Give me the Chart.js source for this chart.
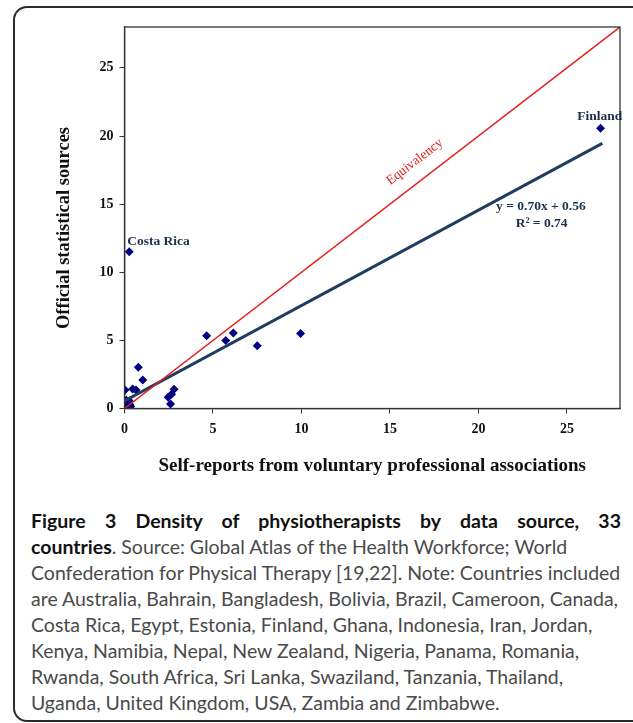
<!DOCTYPE html>
<html>
<head>
<meta charset="utf-8">
<script src="https://cdn.jsdelivr.net/npm/chart.js@4.4.1/dist/chart.umd.min.js"></script>
<style>
  html, body { margin: 0; padding: 0; background: #fff; }
  body { width: 633px; height: 723px; position: relative; overflow: hidden; }
  #frame { position: absolute; left: 13px; top: 6px; width: 640px; height: 712px;
           border: 2px solid #2b2b2b; border-radius: 14px; }
  #chart { position: absolute; left: 0; top: 0; }
  #caption { position: absolute; left: 31px; top: 508px; width: 590px;
             font-family: Lato, sans-serif; font-size: 19.5px; line-height: 26px; color: #4a4a4a; }
  #caption div { white-space: nowrap; }
  #caption .j { text-align: justify; text-align-last: justify; white-space: normal; }
  .b { font-weight: bold; color: #111; }
</style>
</head>
<body>
<div id="frame"></div>
<canvas id="chart" width="633" height="480"></canvas>
<div id="caption">
  <div class="j b">Figure 3 Density of physiotherapists by data source, 33</div>
  <div><span class="b">countries</span>. Source: Global Atlas of the Health Workforce; World</div>
  <div>Confederation for Physical Therapy [19,22]. Note: Countries included</div>
  <div>are Australia, Bahrain, Bangladesh, Bolivia, Brazil, Cameroon, Canada,</div>
  <div>Costa Rica, Egypt, Estonia, Finland, Ghana, Indonesia, Iran, Jordan,</div>
  <div>Kenya, Namibia, Nepal, New Zealand, Nigeria, Panama, Romania,</div>
  <div>Rwanda, South Africa, Sri Lanka, Swaziland, Tanzania, Thailand,</div>
  <div>Uganda, United Kingdom, USA, Zambia and Zimbabwe.</div>
</div>
<script>
// values (33 countries)
const selfReports = [26.9, 0.27, 4.64, 5.72, 6.15, 7.5, 9.95, 0.78, 1.03, 0.03, 0.46, 0.65,
  2.8, 2.66, 2.47, 2.6,
  0.05, 0.1, 0.15, 0.08, 0.22, 0.3, 0.0, 0.12, 0.2, 0.02, 0.25, 0.18, 0.06, 0.35, 0.1, 0.28, 0.04];
const officialStats = [20.57, 11.51, 5.34, 5.0, 5.54, 4.6, 5.51, 3.03, 2.1, 1.36, 1.44, 1.36,
  1.41, 1.05, 0.82, 0.33,
  0.05, 0.1, 0.2, 0.5, 0.38, 0.3, 0.15, 0.02, 0.12, 0.3, 0.08, 0.45, 0.25, 0.15, 0.6, 0.55, 0.0];

const xTicks = [0, 5, 10, 15, 20, 25];
const yTicks = [0, 5, 10, 15, 20, 25];

// trend line y = 0.70x + 0.56 and the equivalency line
const trendX = [0, 27];
const trendY = [0.56, 19.46];
const equivX = [0, 28];
const equivY = [0, 28];

// text placed at data positions
const notes = [
  { text: 'Costa Rica', x: 0.15, y: 12.27, align: 'left' },
  { text: 'Finland', x: 26.85, y: 21.43, align: 'center' },
  { text: 'y = 0.70x + 0.56', x: 23.53, y: 14.83, align: 'center' },
  { text: 'R\u00B2 = 0.74', x: 23.57, y: 13.6, align: 'center' }
];

const serif = 'Liberation Serif';
const points = selfReports.map((v, i) => ({ x: v, y: officialStats[i] }));

const extras = {
  id: 'extras',
  afterDatasetsDraw(chart) {
    const { ctx, chartArea: a, scales: { x, y } } = chart;
    ctx.save();
    // closed plot frame
    ctx.strokeStyle = '#333';
    ctx.lineWidth = 1.3;
    ctx.strokeRect(a.left, a.top, a.right - a.left, a.bottom - a.top);

    ctx.fillStyle = '#1c2f4a';
    ctx.font = 'bold 13.5px "' + serif + '"';
    ctx.textBaseline = 'middle';
    notes.forEach(n => {
      ctx.textAlign = n.align;
      ctx.fillText(n.text, x.getPixelForValue(n.x), y.getPixelForValue(n.y));
    });

    // label along the red line
    const ang = Math.atan2(y.getPixelForValue(28) - y.getPixelForValue(0),
                           x.getPixelForValue(28) - x.getPixelForValue(0));
    ctx.translate(x.getPixelForValue(16.4), y.getPixelForValue(18.1));
    ctx.rotate(ang);
    ctx.fillStyle = '#e3211d';
    ctx.font = '13.5px "' + serif + '"';
    ctx.textAlign = 'center';
    ctx.fillText('Equivalency', 0, 0);
    ctx.restore();

    // y axis title
    ctx.save();
    ctx.translate(64, 228);
    ctx.rotate(-Math.PI / 2);
    ctx.fillStyle = '#111';
    ctx.font = 'bold 18.5px "' + serif + '"';
    ctx.textAlign = 'center';
    ctx.textBaseline = 'middle';
    ctx.fillText('Official statistical sources', 0, 0);
    ctx.restore();
  }
};

const tickFont = { family: serif, weight: 'bold', size: 14 };

new Chart(document.getElementById('chart'), {
  type: 'scatter',
  data: {
    datasets: [
      {
        type: 'line',
        data: equivX.map((v, i) => ({ x: v, y: equivY[i] })),
        borderColor: '#e3211d',
        borderWidth: 1.5,
        pointRadius: 0,
        order: 0
      },
      {
        type: 'line',
        data: trendX.map((v, i) => ({ x: v, y: trendY[i] })),
        borderColor: '#1f3d5e',
        borderWidth: 3,
        pointRadius: 0,
        order: 1
      },
      {
        data: points,
        pointStyle: 'rectRot',
        pointRadius: 4.5,
        backgroundColor: '#000080',
        borderColor: '#000080',
        borderWidth: 0,
        order: 2
      }
    ]
  },
  options: {
    responsive: false,
    animation: false,
    events: [],
    layout: { padding: { left: 0, top: 27, right: 13, bottom: 0 } },
    plugins: { legend: { display: false }, tooltip: { enabled: false } },
    scales: {
      x: {
        type: 'linear',
        min: 0,
        max: 28,
        afterFit: s => { s.height = 71.5; },
        afterBuildTicks: s => { s.ticks = xTicks.map(v => ({ value: v })); },
        grid: { drawOnChartArea: false, tickLength: 5, color: '#333' },
        border: { color: '#333', width: 1.3 },
        ticks: { font: tickFont, color: '#111', padding: 7, maxRotation: 0 },
        title: {
          display: true,
          text: 'Self-reports from voluntary professional associations',
          font: { family: serif, weight: 'bold', size: 19 },
          color: '#111',
          padding: { top: 0, bottom: 3 }
        }
      },
      y: {
        type: 'linear',
        min: 0,
        max: 28,
        afterFit: s => { s.width = 124.5; },
        afterBuildTicks: s => { s.ticks = yTicks.map(v => ({ value: v })); },
        grid: { drawOnChartArea: false, tickLength: 5, color: '#333' },
        border: { color: '#333', width: 1.3 },
        ticks: { font: tickFont, color: '#111', padding: 6 }
      }
    }
  },
  plugins: [extras]
});
</script>
</body>
</html>
